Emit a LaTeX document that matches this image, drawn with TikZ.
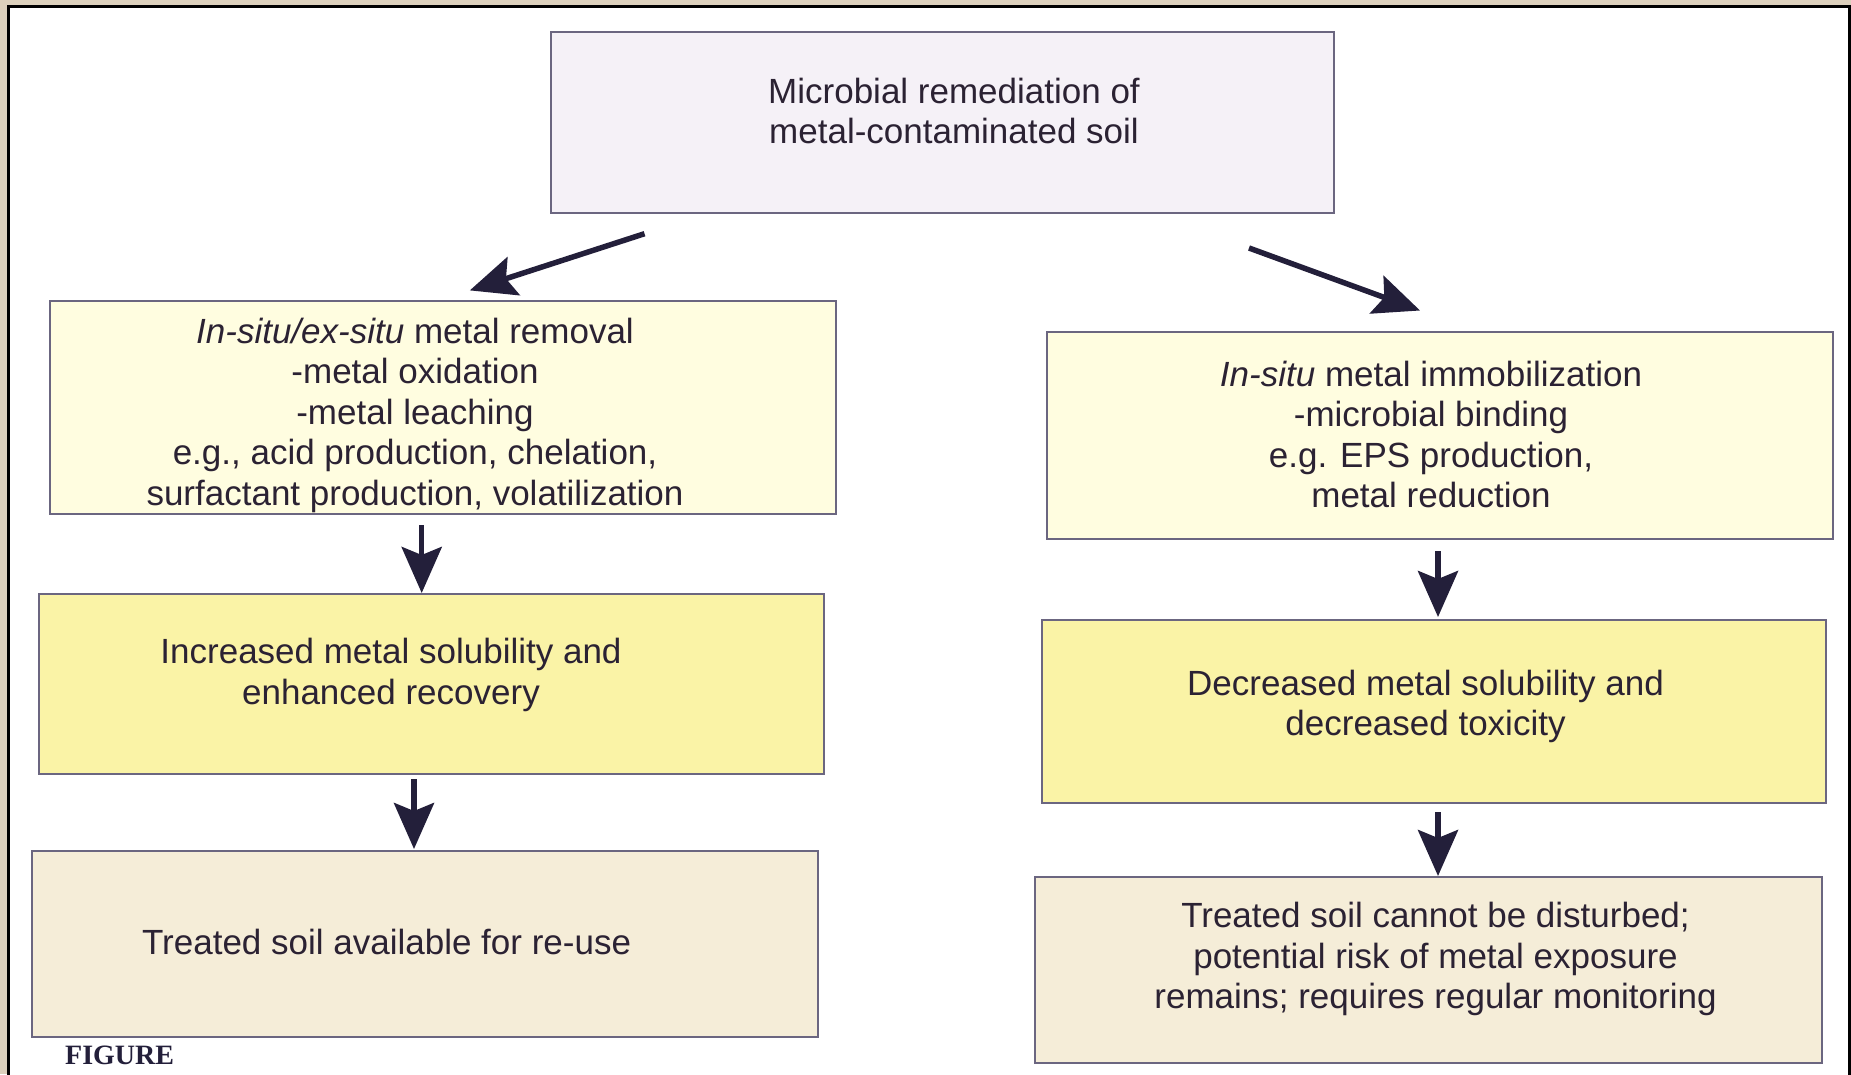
\documentclass[tikz,border=0pt]{standalone}
\usepackage{fontspec}
\setmainfont{Liberation Sans}
\newfontfamily\figfont{Liberation Serif}
\usetikzlibrary{arrows.meta}
\definecolor{outerbg}{HTML}{DCD0BC}
\definecolor{topfill}{HTML}{F5F1F7}
\definecolor{palefill}{HTML}{FFFDE0}
\definecolor{yelfill}{HTML}{FAF3A6}
\definecolor{beigefill}{HTML}{F5EDD8}
\definecolor{edge}{HTML}{6B6680}
\definecolor{ink}{HTML}{2B2233}
\definecolor{arrink}{HTML}{231F3A}
\tikzset{
  boxbase/.style={rectangle, draw=edge, line width=1.4pt, inner sep=0pt},
  topbox/.style={boxbase, fill=topfill},
  palebox/.style={boxbase, fill=palefill},
  yelbox/.style={boxbase, fill=yelfill},
  beigebox/.style={boxbase, fill=beigefill},
  txt/.style={text=ink, align=center, inner sep=0pt, font=\fontsize{35}{40.5}\selectfont},
  arr/.style={draw=arrink, line width=5.5pt, -{Stealth[length=46pt, width=40pt, inset=8pt]}},
}
\begin{document}
\begin{tikzpicture}[x=1pt,y=-1pt]
\useasboundingbox (0,0) rectangle (1851,1074);
\begin{scope}
\clip (0,0) rectangle (1851,1074);
\fill[outerbg] (0,0) rectangle (1851,1074);
\filldraw[fill=white, draw=black, line width=3pt] (8,6) rectangle (1849,1095);

% boxes
\node[topbox, minimum width=783pt, minimum height=181pt] (top) at (942.5,122.5) {};
\node[palebox, minimum width=786pt, minimum height=213pt] (l1) at (443,407.5) {};
\node[palebox, minimum width=786pt, minimum height=207pt] (r1) at (1440,435.5) {};
\node[yelbox, minimum width=785pt, minimum height=180pt] (l2) at (431.5,684) {};
\node[yelbox, minimum width=784pt, minimum height=183pt] (r2) at (1434,711.5) {};
\node[beigebox, minimum width=786pt, minimum height=186pt] (l3) at (425,944) {};
\node[beigebox, minimum width=787pt, minimum height=186pt] (r3) at (1428.5,970) {};

% texts
\node[txt] (ttop) at (954,111) {Microbial remediation of\\metal-contaminated soil};
\node[txt] (tl1) at (415,415) {\textit{In-situ/ex-situ} metal removal\\-metal oxidation\\-metal leaching\\e.g., acid production, chelation,\\surfactant production, volatilization};
\node[txt] (tr1) at (1431,434.5) {\textit{In-situ} metal immobilization\\-microbial binding\\e.g. EPS production,\\metal reduction};
\node[txt] (tl2) at (391,675) {Increased metal solubility and\\enhanced recovery};
\node[txt] (tr2) at (1425.5,706.5) {Decreased metal solubility and\\decreased toxicity};
\node[txt] (tl3) at (386.6,942) {Treated soil available for re-use};
\node[txt] (tr3) at (1435.5,959) {Treated soil cannot be disturbed;\\potential risk of metal exposure\\remains; requires regular monitoring};

% arrows
\coordinate (a1s) at (644.5,233.7);
\coordinate (a1e) at (469.8,290.4);
\coordinate (a2s) at (1249,248);
\coordinate (a2e) at (1420,310.5);
\coordinate (a3s) at (421.7,525);
\coordinate (a3e) at (421.7,593);
\coordinate (a4s) at (414,779);
\coordinate (a4e) at (414,849);
\coordinate (a5s) at (1438,551);
\coordinate (a5e) at (1438,617);
\coordinate (a6s) at (1438,812);
\coordinate (a6e) at (1438,876);
\draw[arr] (a1s) -- (a1e);
\draw[arr] (a2s) -- (a2e);
\draw[arr] (a3s) -- (a3e);
\draw[arr] (a4s) -- (a4e);
\draw[arr] (a5s) -- (a5e);
\draw[arr] (a6s) -- (a6e);

% caption
\node[anchor=north west, inner sep=0pt, text=arrink, font=\figfont\bfseries\fontsize{28}{32}\selectfont] (cap) at (65,1046) {FIGURE};
\end{scope}
\end{tikzpicture}
\end{document}
